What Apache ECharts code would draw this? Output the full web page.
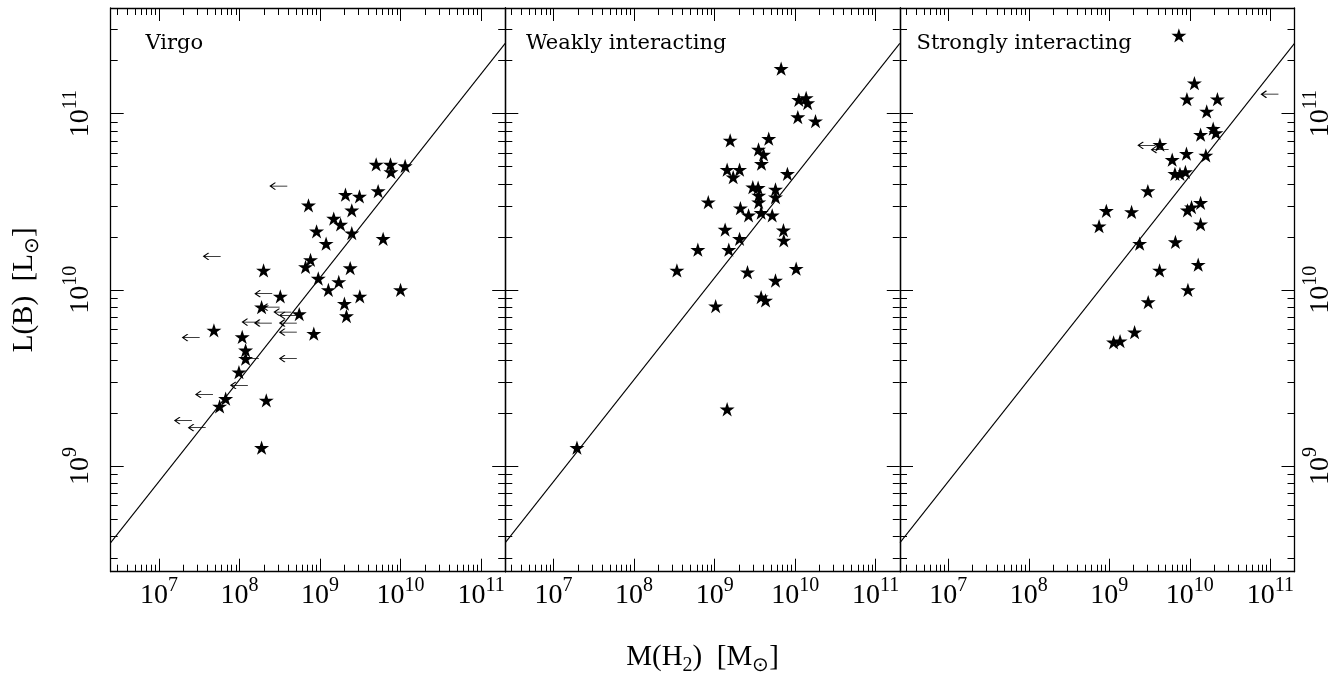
<!DOCTYPE html>
<html><head><meta charset="utf-8">
<script src="https://cdn.jsdelivr.net/npm/echarts@6/dist/echarts.min.js"></script>
<style>html,body{margin:0;padding:0;background:#fff}#c{width:1340px;height:673px}</style>
</head><body><div id="c"></div>
<script>
// ---------- data ----------
const panelNames = ['Virgo', 'Weakly interacting', 'Strongly interacting'];
const xTickExponents = [7, 8, 9, 10, 11];   // tick labels 10^7 ... 10^11
const yTickExponents = [9, 10, 11];         // tick labels 10^9 ... 10^11

// Virgo: detections (stars) and upper limits (arrows, tail = limit)
const virgoStarM = [4.98e9, 7.5e9, 7.6e9, 1.14e10, 5.27e9, 2.07e9, 3.09e9, 7.19e8, 2.48e9, 1.48e9, 1.80e9, 9.06e8, 2.48e9, 6.08e9, 1.19e9, 7.62e8, 6.61e8, 1.99e8, 2.37e9, 9.51e8, 1.71e9, 1.27e9, 1.00e10, 3.21e8, 3.12e9, 1.88e8, 2.01e9, 5.52e8, 2.13e9, 4.81e7, 8.37e8, 1.08e8, 1.19e8, 1.19e8, 9.84e7, 6.73e7, 5.66e7, 2.15e8, 1.88e8];
const virgoStarL = [5.15e10, 5.15e10, 4.67e10, 5.05e10, 3.64e10, 3.47e10, 3.39e10, 3.02e10, 2.83e10, 2.54e10, 2.35e10, 2.15e10, 2.10e10, 1.95e10, 1.83e10, 1.48e10, 1.35e10, 1.29e10, 1.33e10, 1.16e10, 1.11e10, 1.00e10, 1.00e10, 9.19e9, 9.19e9, 7.98e9, 8.35e9, 7.29e9, 7.10e9, 5.89e9, 5.64e9, 5.40e9, 4.54e9, 4.07e9, 3.41e9, 2.41e9, 2.18e9, 2.36e9, 1.27e9];
const virgoLimM = [3.92e8, 5.83e7, 2.55e8, 3.15e8, 4.40e8, 5.15e8, 1.77e8, 2.52e8, 5.15e8, 5.15e8, 3.20e7, 1.74e8, 5.15e8, 1.27e8, 4.68e7, 2.56e7, 3.80e7];
const virgoLimL = [3.88e10, 1.55e10, 9.51e9, 7.98e9, 7.48e9, 7.16e9, 6.56e9, 6.48e9, 6.48e9, 5.75e9, 5.36e9, 4.07e9, 4.07e9, 2.87e9, 2.55e9, 1.81e9, 1.65e9];

// Weakly interacting
const weakStarM = [6.70e9, 1.11e10, 1.37e10, 1.43e10, 1.08e10, 1.79e10, 1.56e9, 4.70e9, 3.51e9, 4.05e9, 3.82e9, 1.43e9, 2.04e9, 1.70e9, 8.02e9, 2.98e9, 3.47e9, 5.70e9, 3.53e9, 5.70e9, 3.53e9, 8.34e8, 2.09e9, 2.64e9, 3.78e9, 5.19e9, 1.35e9, 7.16e9, 7.23e9, 2.04e9, 6.19e8, 1.50e9, 3.40e8, 2.56e9, 1.03e10, 5.70e9, 3.78e9, 4.29e9, 1.03e9, 1.43e9, 1.95e7];
const weakStarL = [1.80e11, 1.20e11, 1.23e11, 1.15e11, 9.57e10, 9.08e10, 7.05e10, 7.21e10, 6.27e10, 5.87e10, 5.20e10, 4.81e10, 4.81e10, 4.36e10, 4.56e10, 3.83e10, 3.80e10, 3.72e10, 3.44e10, 3.36e10, 3.15e10, 3.15e10, 2.91e10, 2.65e10, 2.74e10, 2.65e10, 2.20e10, 2.18e10, 1.91e10, 1.95e10, 1.69e10, 1.69e10, 1.29e10, 1.26e10, 1.32e10, 1.13e10, 9.10e9, 8.71e9, 8.09e9, 2.10e9, 1.27e9];
const weakLimM = [];
const weakLimL = [];

// Strongly interacting
const strongStarM = [7.31e9, 1.14e10, 9.2e9, 2.20e10, 1.62e10, 1.95e10, 2.11e10, 1.36e10, 4.25e9, 1.58e10, 9.08e9, 6.04e9, 6.53e9, 7.54e9, 8.81e9, 3.01e9, 9.18e8, 1.89e9, 7.46e8, 9.34e9, 1.05e10, 1.36e10, 1.36e10, 2.38e9, 6.62e9, 4.21e9, 1.27e10, 9.47e9, 3.04e9, 2.06e9, 1.13e9, 1.36e9];
const strongStarL = [2.78e11, 1.49e11, 1.21e11, 1.21e11, 1.03e11, 8.22e10, 7.78e10, 7.60e10, 6.67e10, 5.80e10, 5.93e10, 5.48e10, 4.56e10, 4.56e10, 4.67e10, 3.64e10, 2.81e10, 2.77e10, 2.30e10, 2.83e10, 2.95e10, 3.12e10, 2.36e10, 1.83e10, 1.87e10, 1.29e10, 1.39e10, 1.00e10, 8.53e9, 5.75e9, 5.04e9, 5.12e9];
const strongLimM = [3.72e9, 5.45e9, 1.26e11];
const strongLimL = [6.61e10, 6.25e10, 1.29e11];

// reference line (same in all panels), endpoints at the frame edges
const fitLineM = [2.512e6, 1.995e11];
const fitLineL = [3.67e8, 2.51e11];

// ---------- chart ----------
const X_MIN = 6.4, X_MAX = 11.3, Y_MIN = 8.4, Y_MAX = 11.6; // log10 axis ranges
function minorTicks(lo, hi) {
  const a = [];
  for (let n = Math.floor(lo); n <= Math.ceil(hi); n++)
    for (let k = 2; k <= 9; k++) {
      const v = n + Math.log10(k);
      if (v > lo + 1e-6 && v < hi - 1e-6) a.push(+v.toFixed(6));
    }
  return a;
}
const xMinor = minorTicks(X_MIN, X_MAX), yMinor = minorTicks(Y_MIN, Y_MAX);
const SERIF = 'Liberation Serif';
const supRich = {
  b: { fontFamily: SERIF, fontSize: 28, lineHeight: 40, color: '#000' },
  s: { fontFamily: SERIF, fontSize: 20, lineHeight: 16, verticalAlign: 'top', color: '#000' }
};
const supFmt = v => '{b|10}{s|' + Math.round(v) + '}';
const black = '#000';

function axis(kind, p, pos, minor, showLabel, extra) {
  const isX = kind === 'x';
  return Object.assign({
    type: 'value', gridIndex: p, position: pos,
    min: isX ? X_MIN : Y_MIN, max: isX ? X_MAX : Y_MAX,
    axisLine: { show: !minor, onZero: false, lineStyle: { color: black, width: 1.3 } },
    axisTick: { show: true, inside: true, length: minor ? 7 : 13,
      customValues: minor ? (isX ? xMinor : yMinor) : (isX ? xTickExponents : yTickExponents),
      lineStyle: { color: black, width: 1 } },
    axisLabel: { show: showLabel, customValues: isX ? xTickExponents : yTickExponents,
      formatter: supFmt, rich: supRich, color: black },
    splitLine: { show: false }, minorTick: { show: false }, axisPointer: { show: false }
  }, extra || {});
}

const gridLefts = [110.7, 505.3, 900];
const grids = gridLefts.map(l => ({ left: l, top: 8, width: 394.5, height: 563.7, containLabel: false, outerBoundsMode: 'none' }));
const nameRich = {
  n: { fontFamily: SERIF, fontSize: 29, lineHeight: 36, color: black },
  sub: { fontFamily: SERIF, fontSize: 20, lineHeight: 18, verticalAlign: 'bottom', color: black }
};
const xAxes = [], yAxes = [];
for (let p = 0; p < 3; p++) {
  const xName = p === 1 ? {
    name: '{n|M(H}{sub|2}{n|)  [M}{sub|⊙}{n|]}', nameLocation: 'middle', nameGap: 68,
    nameTextStyle: { rich: nameRich }
  } : {};
  xAxes.push(axis('x', p, 'bottom', false, true, Object.assign({ axisLabel: Object.assign(axis('x', p).axisLabel, { show: true, margin: 4 }) }, xName)));
  xAxes.push(axis('x', p, 'bottom', true, false));
  xAxes.push(axis('x', p, 'top', false, false));
  xAxes.push(axis('x', p, 'top', true, false));
  const yName = p === 0 ? {
    name: '{n|L(B)  [L}{sub|⊙}{n|]}', nameLocation: 'middle', nameGap: 68, nameRotate: 90,
    nameTextStyle: { rich: nameRich }
  } : {};
  yAxes.push(axis('y', p, 'left', false, p === 0, Object.assign({ axisLabel: Object.assign(axis('y', p).axisLabel, { show: p === 0, rotate: 90, margin: 10 }) }, yName)));
  yAxes.push(axis('y', p, 'left', true, false));
  yAxes.push(axis('y', p, 'right', false, p === 2, { axisLabel: Object.assign(axis('y', p).axisLabel, { show: p === 2, rotate: 90, margin: 6 }) }));
  yAxes.push(axis('y', p, 'right', true, false));
}

const STAR = 'path://M50,0 L61.23,34.55 L97.55,34.55 L68.17,55.9 L79.39,90.45 L50,69.1 L20.61,90.45 L31.83,55.9 L2.45,34.55 L38.77,34.55 Z';
const ARROW = 'path://M0,3.5 L17,3.5 M5,0 L0,3.5 L5,7';
const toXY = (M, L) => M.map((m, i) => [Math.log10(m), Math.log10(L[i])]);
const panels = [
  [virgoStarM, virgoStarL, virgoLimM, virgoLimL],
  [weakStarM, weakStarL, weakLimM, weakLimL],
  [strongStarM, strongStarL, strongLimM, strongLimL]
];
const series = [];
panels.forEach((d, p) => {
  const ax = { xAxisIndex: 4 * p, yAxisIndex: 4 * p };
  series.push(Object.assign({ type: 'line', data: toXY(fitLineM, fitLineL), symbol: 'none', silent: true,
    lineStyle: { color: black, width: 1.1 }, z: 2 }, ax));
  series.push(Object.assign({ type: 'scatter', data: toXY(d[0], d[1]), symbol: STAR, symbolSize: 15,
    symbolKeepAspect: true, itemStyle: { color: black, opacity: 1 }, z: 4 }, ax));
  series.push(Object.assign({ type: 'scatter', data: toXY(d[2], d[3]), symbol: ARROW, symbolSize: [17, 7],
    symbolOffset: [-8.5, 0], itemStyle: { color: 'none', borderColor: black, borderWidth: 1.1, opacity: 1 }, z: 3 }, ax));
});

const labelPos = [[145.5, 33], [526, 33], [916.5, 33]];
const graphic = panelNames.map((t, i) => ({
  type: 'text', left: labelPos[i][0], top: labelPos[i][1], silent: true,
  style: { text: t, font: '21px "DejaVu Serif"', fill: black }
}));

const chart = echarts.init(document.getElementById('c'), null, { renderer: 'canvas' });
chart.setOption({
  animation: false, backgroundColor: '#fff',
  grid: grids, xAxis: xAxes, yAxis: yAxes, series: series, graphic: graphic
});
</script></body></html>
